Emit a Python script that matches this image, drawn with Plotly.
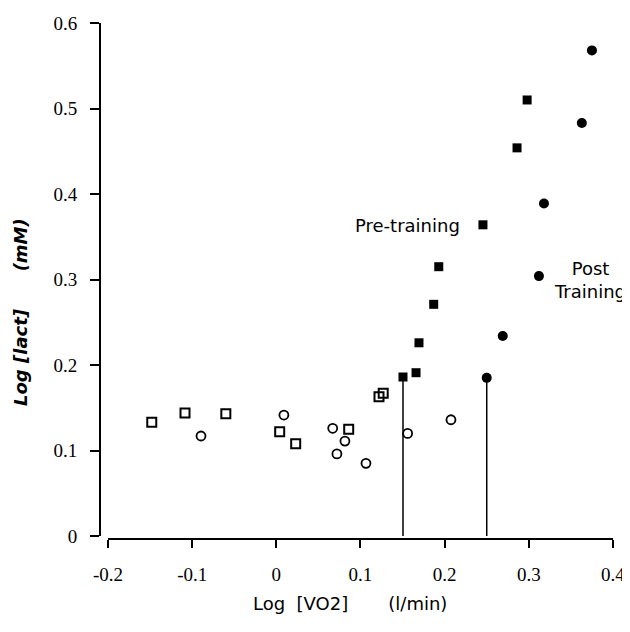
import plotly.graph_objects as go

# Pre-training, below threshold (open squares)
pre_low_x = [-0.148, -0.1085, -0.060, 0.004, 0.023, 0.086, 0.122, 0.127]
pre_low_y = [0.133, 0.144, 0.143, 0.122, 0.108, 0.125, 0.163, 0.167]
# Post-training, below threshold (open circles)
post_low_x = [-0.0895, 0.009, 0.067, 0.0815, 0.072, 0.1065, 0.156, 0.2075]
post_low_y = [0.117, 0.1415, 0.126, 0.111, 0.096, 0.085, 0.120, 0.136]
# Pre-training, above threshold (filled squares)
pre_x = [0.1505, 0.166, 0.1695, 0.187, 0.193, 0.2455, 0.286, 0.298]
pre_y = [0.186, 0.191, 0.226, 0.271, 0.315, 0.364, 0.454, 0.510]
# Post-training, above threshold (filled circles)
post_x = [0.250, 0.269, 0.312, 0.318, 0.363, 0.375]
post_y = [0.185, 0.234, 0.304, 0.389, 0.483, 0.568]

x_ticks = [-0.2, -0.1, 0, 0.1, 0.2, 0.3, 0.4]
x_ticklabels = ["-0.2", "-0.1", "0", "0.1", "0.2", "0.3", "0.4"]
y_ticks = [0, 0.1, 0.2, 0.3, 0.4, 0.5, 0.6]
y_ticklabels = ["0", "0.1", "0.2", "0.3", "0.4", "0.5", "0.6"]

fig = go.Figure()
fig.add_trace(go.Scatter(x=pre_low_x, y=pre_low_y, mode="markers",
                         marker=dict(symbol="square-open", size=9, color="black",
                                     line=dict(width=2, color="black"))))
fig.add_trace(go.Scatter(x=post_low_x, y=post_low_y, mode="markers",
                         marker=dict(symbol="circle-open", size=9, color="black",
                                     line=dict(width=1.8, color="black"))))
fig.add_trace(go.Scatter(x=pre_x, y=pre_y, mode="markers",
                         marker=dict(symbol="square", size=9, color="black")))
fig.add_trace(go.Scatter(x=post_x, y=post_y, mode="markers",
                         marker=dict(symbol="circle", size=10, color="black")))

shapes = [
    # y axis line
    dict(type="line", xref="paper", yref="y", x0=0, x1=0, y0=y_ticks[0], y1=y_ticks[-1],
         line=dict(color="black", width=2)),
    # x axis line
    dict(type="line", xref="x", yref="paper", x0=x_ticks[0], x1=x_ticks[-1], y0=0, y1=0,
         line=dict(color="black", width=2)),
    # threshold drop lines
    dict(type="line", xref="x", yref="y", x0=pre_x[0], x1=pre_x[0], y0=0, y1=pre_y[0],
         line=dict(color="black", width=1.5)),
    dict(type="line", xref="x", yref="y", x0=post_x[0], x1=post_x[0], y0=0, y1=post_y[0],
         line=dict(color="black", width=1.5)),
]

PW, PH = 515, 524  # plot area size in px
annotations = [
    dict(x=0.2205, y=0.3637, xref="x", yref="y", text="Pre-training", showarrow=False,
         xanchor="right", yanchor="middle",
         font=dict(family="DejaVu Sans", size=18, color="black")),
    dict(x=0.3727, y=0.300, xref="x", yref="y", text="Post<br>Training", showarrow=False,
         xanchor="center", yanchor="middle", align="center",
         font=dict(family="DejaVu Sans", size=18, color="black")),
    dict(x=(350 - 100) / PW, y=(539 - 603) / PH, xref="paper", yref="paper",
         text="Log\u00a0\u00a0[VO2]\u00a0\u00a0\u00a0\u00a0\u00a0\u00a0\u00a0(l/min)",
         showarrow=False, xanchor="center", yanchor="middle",
         font=dict(family="DejaVu Sans", size=18, color="black")),
    dict(x=(21 - 100) / PW, y=(539 - 312) / PH, xref="paper", yref="paper",
         text="<b><i>Log [lact]\u00a0\u00a0\u00a0\u00a0\u00a0\u00a0(mM)</i></b>", textangle=-90,
         showarrow=False, xanchor="center", yanchor="middle",
         font=dict(family="DejaVu Sans", size=18, color="black")),
]

fig.update_layout(
    width=622, height=624,
    margin=dict(l=92, r=15, t=7, b=93, autoexpand=False),
    paper_bgcolor="white", plot_bgcolor="white",
    showlegend=False,
    shapes=shapes,
    annotations=annotations,
    xaxis=dict(range=[-0.2095, 0.4024], tickvals=x_ticks, ticktext=x_ticklabels,
               showgrid=False, zeroline=False, showline=False, automargin=False,
               ticks="outside", ticklen=8, tickwidth=2, tickcolor="black",
               ticklabelstandoff=10,
               tickfont=dict(family="Liberation Serif", size=19, color="black")),
    yaxis=dict(range=[-0.0035, 0.6094], tickvals=y_ticks, ticktext=y_ticklabels,
               showgrid=False, zeroline=False, showline=False, automargin=False,
               ticks="outside", ticklen=9, tickwidth=2, tickcolor="black",
               ticklabelstandoff=9,
               tickfont=dict(family="Liberation Serif", size=19, color="black")),
)

fig.write_html("out.html")
